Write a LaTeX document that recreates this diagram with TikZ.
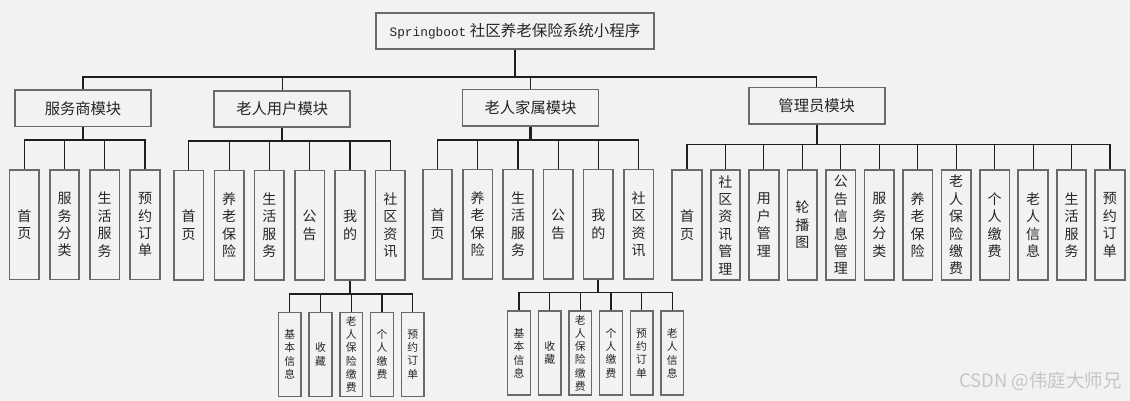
\documentclass[tikz,border=0pt]{standalone}
\usepackage{fontspec}
\newfontfamily\cjk{Noto Sans CJK SC}
\newfontfamily\monof{Liberation Mono}
\definecolor{bgc}{HTML}{F2F2F2}
\definecolor{boxc}{HTML}{6A6A6A}
\definecolor{linec}{HTML}{1E1E1E}
\definecolor{wmc}{HTML}{C6C6C6}
\tikzset{
  boxbase/.style={draw=boxc, line width=1.7pt, fill=bgc, inner sep=0pt, align=center, text=black!85},
  topbox/.style={boxbase, minimum width=278pt, minimum height=36pt, font=\cjk\fontsize{15.5}{17}\selectfont},
  modbox/.style={boxbase, minimum width=136pt, minimum height=36.5pt, font=\cjk\fontsize{15.3}{17}\selectfont},
  leafbox/.style={boxbase, minimum width=29.5pt, minimum height=109.5pt, font=\cjk\fontsize{14}{17.4}\selectfont},
  subbox/.style={boxbase, minimum width=22.7pt, minimum height=84pt, line width=1.5pt, font=\cjk\fontsize{10.8}{13.3}\selectfont},
  conn/.style={draw=linec, line width=1.1pt},
  stem/.style={draw=linec, line width=2.2pt},
}
\begin{document}
\begin{tikzpicture}[x=1pt,y=-1pt]
\fill[bgc] (0,0) rectangle (1130,401);
\useasboundingbox (0,0) rectangle (1130,401);

% title
\node[topbox] (T) at (515,31) {{\monof\fontsize{12.8}{16}\selectfont Springboot} 社区养老保险系统小程序};

% modules
\node[modbox] (A) at (83,108.3) {服务商模块};
\node[modbox] (B) at (282.2,109) {老人用户模块};
\node[modbox] (C) at (530.5,107.7) {老人家属模块};
\node[modbox] (D) at (816.7,105.8) {管理员模块};

\coordinate (bus0) at (0,77);
\draw[stem] (T.south) -- (T.south |- bus0);
\foreach \m in {A,B,C,D} \draw[conn] (T.south |- bus0) -| (\m.north);

% level 2 : A
\coordinate (busA) at (0,140);
\foreach \x/\t [count=\i] in {24.3/首\\页, 64.5/服\\务\\分\\类, 104.7/生\\活\\服\\务, 145/预\\约\\订\\单}
  \node[leafbox] (a\i) at (\x,224.7) {\t};
\draw[stem] (A.south) -- (A.south |- busA);
\foreach \i in {1,...,4} \draw[conn] (A.south |- busA) -| (a\i.north);

% level 2 : B
\coordinate (busB) at (0,141);
\foreach \x/\t [count=\i] in {188.7/首\\页, 229.2/养\\老\\保\\险, 269.3/生\\活\\服\\务, 309.7/公\\告, 350/我\\的, 390.3/社\\区\\资\\讯}
  \node[leafbox] (b\i) at (\x,225.3) {\t};
\draw[stem] (B.south) -- (B.south |- busB);
\foreach \i in {1,...,6} \draw[conn] (B.south |- busB) -| (b\i.north);

% level 2 : C
\coordinate (busC) at (0,140);
\foreach \x/\t [count=\i] in {437.5/首\\页, 477.7/养\\老\\保\\险, 518/生\\活\\服\\务, 558.2/公\\告, 598.3/我\\的, 638.7/社\\区\\资\\讯}
  \node[leafbox] (c\i) at (\x,224.2) {\t};
\draw[stem] (C.south) -- (C.south |- busC);
\foreach \i in {1,...,6} \draw[conn] (C.south |- busC) -| (c\i.north);

% level 2 : D
\coordinate (busD) at (0,144.3);
\foreach \t [count=\i] in {首\\页, 社\\区\\资\\讯\\管\\理, 用\\户\\管\\理, 轮\\播\\图, 公\\告\\信\\息\\管\\理, 服\\务\\分\\类, 养\\老\\保\\险, 老\\人\\保\\险\\缴\\费, 个\\人\\缴\\费, 老\\人\\信\\息, 生\\活\\服\\务, 预\\约\\订\\单}
  \node[leafbox] (d\i) at ({687+38.45*(\i-1)},225) {\t};
\draw[stem] (D.south) -- (D.south |- busD);
\foreach \i in {1,...,12} \draw[conn] (D.south |- busD) -| (d\i.north);

% level 3 : under B 我的
\coordinate (busE) at (0,294);
\foreach \t [count=\i] in {基\\本\\信\\息, 收\\藏, 老\\人\\保\\险\\缴\\费, 个\\人\\缴\\费, 预\\约\\订\\单}
  \node[subbox] (e\i) at ({289.7+30.75*(\i-1)},354.3) {\t};
\draw[stem] (b5.south) -- (b5.south |- busE);
\foreach \i in {1,...,5} \draw[conn] (b5.south |- busE) -| (e\i.north);

% level 3 : under C 我的
\coordinate (busF) at (0,292.7);
\foreach \t [count=\i] in {基\\本\\信\\息, 收\\藏, 老\\人\\保\\险\\缴\\费, 个\\人\\缴\\费, 预\\约\\订\\单, 老\\人\\信\\息}
  \node[subbox] (f\i) at ({519+30.66*(\i-1)},353.2) {\t};
\draw[stem] (c5.south) -- (c5.south |- busF);
\foreach \i in {1,...,6} \draw[conn] (c5.south |- busF) -| (f\i.north);

% watermark
\node[text=wmc, font=\cjk\fontsize{18.5}{20}\selectfont, anchor=east, inner sep=0pt] (wm) at (1122,381) {CSDN @伟庭大师兄};
\end{tikzpicture}
\end{document}
